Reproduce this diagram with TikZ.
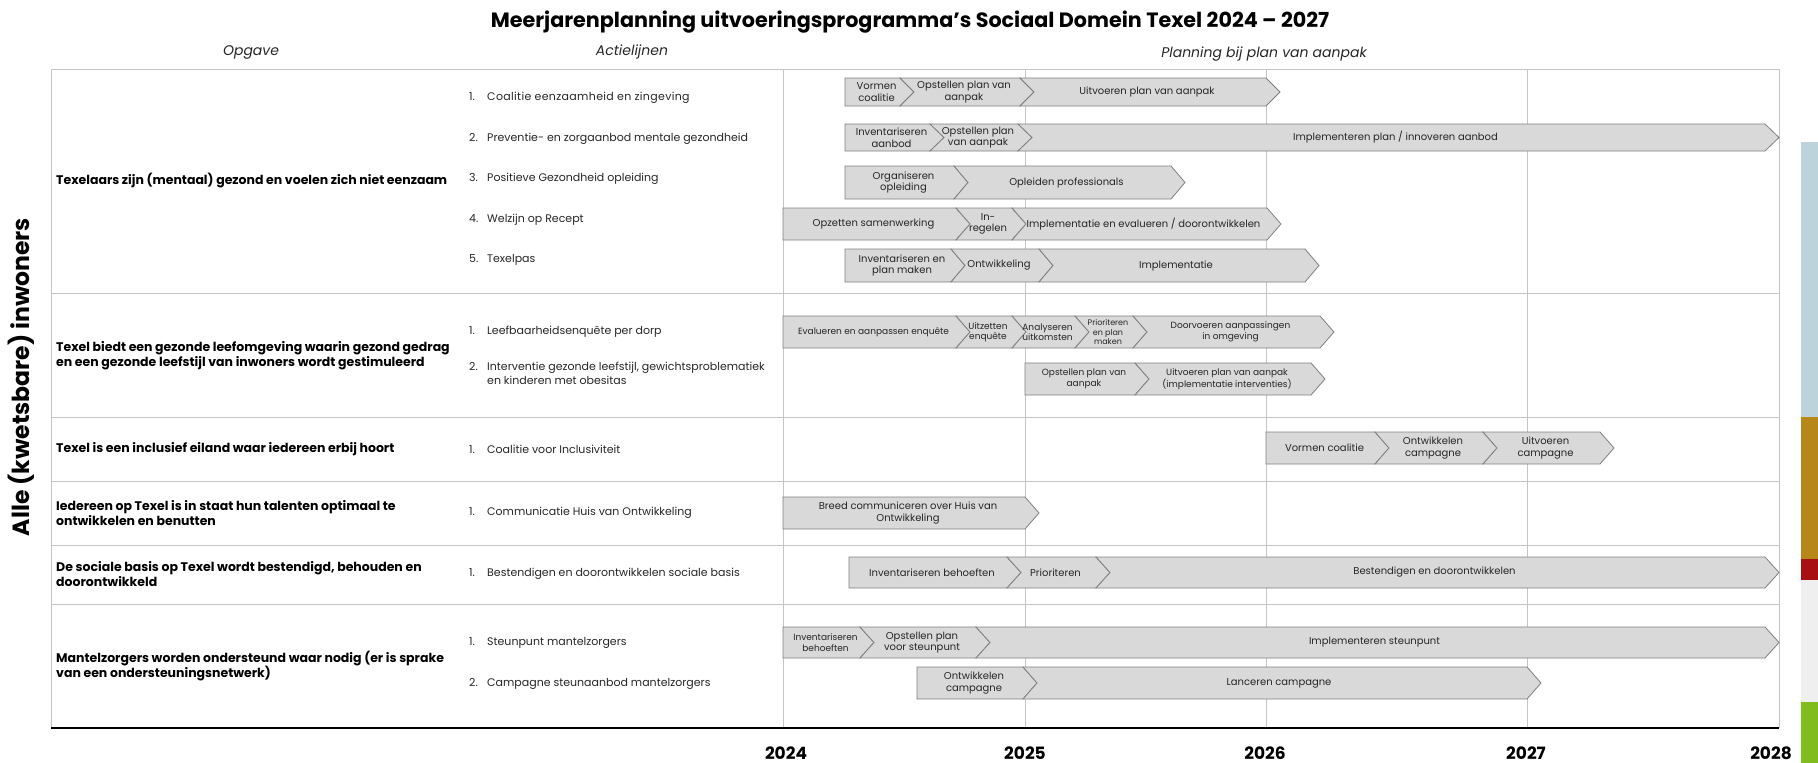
\documentclass[tikz,border=0pt]{standalone}
\usepackage{fontspec}
\setmainfont{Poppins}
\usetikzlibrary{positioning}

\definecolor{barfill}{HTML}{D9D9D9}
\definecolor{barline}{HTML}{7F7F7F}
\definecolor{gridline}{HTML}{C4C4C4}
\definecolor{tagblue}{HTML}{BDD3DC}
\definecolor{taggold}{HTML}{B8871A}
\definecolor{tagred}{HTML}{A80F12}
\definecolor{taggrey}{HTML}{EFEFEF}
\definecolor{taggreen}{HTML}{80BC1E}

\def\tipd{14}

% first block of a bar: flat left end, pointed right end
\newcommand{\headseg}[7][]{%
  \pgfmathsetmacro{\ymid}{(#4+#5)/2}%
  \pgfmathsetmacro{\xtxt}{(#2+#3)/2+4}%
  \filldraw[segment] (#2,#4) -- (#3,#4) -- (#3+\tipd,\ymid) -- (#3,#5) -- (#2,#5) -- cycle;
  \node[segtext,#1] (#6) at (\xtxt,\ymid) {#7};
}
% following block: notched left end, pointed right end
\newcommand{\nextseg}[7][]{%
  \pgfmathsetmacro{\ymid}{(#4+#5)/2}%
  \pgfmathsetmacro{\xtxt}{(#2+#3)/2+4}%
  \filldraw[segment] (#2,#4) -- (#3,#4) -- (#3+\tipd,\ymid) -- (#3,#5) -- (#2,#5) -- (#2+\tipd,\ymid) -- cycle;
  \node[segtext,#1] (#6) at (\xtxt,\ymid) {#7};
}

\begin{document}
\begin{tikzpicture}
[x=1pt, y=-1pt,
    segment/.style={fill=barfill, draw=barline, line width=0.8pt, line join=miter},
    segtext/.style={font=\fontsize{10}{11.5}\selectfont, align=center,
        text=black!85, inner sep=0pt},
    segsmall/.style={font=\fontsize{9}{10.5}\selectfont},
    segtiny/.style={font=\fontsize{8}{9.5}\selectfont},
    goal/.style={anchor=west, align=left, inner sep=0pt,
        font=\fontsize{12.5}{15}\selectfont\bfseries},
    item/.style={anchor=west, align=left, inner sep=0pt,
        font=\fontsize{11}{14}\selectfont, text=black!85},
    head/.style={font=\fontsize{14}{16}\selectfont\itshape, text=black!85},
    year/.style={font=\fontsize{17}{20}\selectfont\bfseries},
    gridrule/.style={draw=gridline, line width=1pt},
    ]

    \useasboundingbox (0,0) rectangle (1818,763);

    % title and column heads
    \node[font=\fontsize{20.7}{24}\selectfont\bfseries] (title) at (910,22)
        {Meerjarenplanning uitvoeringsprogramma’s Sociaal Domein Texel 2024 – 2027};
    \node[head] (hOpgave) at (251,52) {Opgave};
    \node[head] (hActie) at (632,52) {Actielijnen};
    \node[head] (hPlan) at (1264,54) {Planning bij plan van aanpak};

    % table rules
    \draw[gridrule] (51,69) -- (1779,69);
    \foreach \y in {293,417,481,545,604}
        \draw[gridrule] (51,\y) -- (1779,\y);
    \draw[gridrule] (51,69) -- (51,728);
    \foreach \x in {783,1025,1266,1527,1779}
        \draw[gridrule] (\x,69) -- (\x,728);
    \draw[line width=2.2pt] (51,728) -- (1779,728);

    % years
    \node[year] (y2024) at (786,753) {2024};
    \node[year] (y2025) at (1025,753) {2025};
    \node[year] (y2026) at (1265,753) {2026};
    \node[year] (y2027) at (1526,753) {2027};
    \node[year] (y2028) at (1771,753) {2028};

    % side label
    \node[rotate=90, font=\fontsize{23.5}{28}\selectfont\bfseries] (target) at (21,377)
        {Alle (kwetsbare) inwoners};

    % coloured strip at the right
    \fill[tagblue] (1801,142) rectangle (1818,417);
    \fill[taggold] (1801,417) rectangle (1818,559);
    \fill[tagred] (1801,559) rectangle (1818,580);
    \fill[taggrey] (1801,580) rectangle (1818,702);
    \fill[taggreen] (1801,702) rectangle (1818,763);

    % opgaven
    \node[goal] (g1) at (56,181) {Texelaars zijn (mentaal) gezond en voelen zich niet eenzaam};
    \node[goal] (g2) at (56,355.5) {Texel biedt een gezonde leefomgeving waarin gezond gedrag\\en een gezonde leefstijl van inwoners wordt gestimuleerd};
    \node[goal] (g3) at (56,449) {Texel is een inclusief eiland waar iedereen erbij hoort};
    \node[goal] (g4) at (56,513) {Iedereen op Texel is in staat hun talenten optimaal te\\ontwikkelen en benutten};
    \node[goal] (g5) at (56,574) {De sociale basis op Texel wordt bestendigd, behouden en\\doorontwikkeld};
    \node[goal] (g6) at (56,666) {Mantelzorgers worden ondersteund waar nodig (er is sprake\\van een ondersteuningsnetwerk)};

    % actielijnen
    \node[item] (a11) at (469,98) {\makebox[18pt][l]{1.}{\addfontfeature{LetterSpace=3}Coalitie eenzaamheid en zingeving}};
    \node[item] (a12) at (469,138.5) {\makebox[18pt][l]{2.}Preventie- en zorgaanbod mentale gezondheid};
    \node[item] (a13) at (469,179) {\makebox[18pt][l]{3.}Positieve Gezondheid opleiding};
    \node[item] (a14) at (469,219.5) {\makebox[18pt][l]{4.}Welzijn op Recept};
    \node[item] (a15) at (469,260) {\makebox[18pt][l]{5.}Texelpas};
    \node[item] (a21) at (469,332) {\makebox[18pt][l]{1.}Leefbaarheidsenquête per dorp};
    \node[item] (a22) at (469,373) {\makebox[18pt][l]{2.}Interventie gezonde leefstijl, gewichtsproblematiek\\\hspace*{18pt}en kinderen met obesitas};
    \node[item] (a31) at (469,449) {\makebox[18pt][l]{1.}Coalitie voor Inclusiviteit};
    \node[item] (a41) at (469,513) {\makebox[18pt][l]{1.}Communicatie Huis van Ontwikkeling};
    \node[item] (a51) at (469,574) {\makebox[18pt][l]{1.}Bestendigen en doorontwikkelen sociale basis};
    \node[item] (a61) at (469,643) {\makebox[18pt][l]{1.}Steunpunt mantelzorgers};
    \node[item] (a62) at (469,684) {\makebox[18pt][l]{2.}Campagne steunaanbod mantelzorgers};

    % planning bars
    \headseg{845}{900}{78}{106}{s11a}{Vormen\\coalitie}
    \nextseg{900}{1020}{78}{106}{s11b}{Opstellen plan van\\aanpak}
    \nextseg{1020}{1266}{78}{106}{s11c}{Uitvoeren plan van aanpak}

    \headseg{845}{930}{124}{151}{s12a}{Inventariseren\\aanbod}
    \nextseg{930}{1018}{124}{151}{s12b}{Opstellen plan\\van aanpak}
    \nextseg{1018}{1765}{124}{151}{s12c}{Implementeren plan / innoveren aanbod}

    \headseg{845}{954}{166}{199}{s13a}{Organiseren\\opleiding}
    \nextseg{954}{1171}{166}{199}{s13b}{Opleiden professionals}

    \headseg{783}{956}{208}{240}{s14a}{Opzetten samenwerking}
    \nextseg{956}{1012}{208}{240}{s14b}{In-\\regelen}
    \nextseg{1012}{1267}{208}{240}{s14c}{Implementatie en evalueren / doorontwikkelen}

    \headseg{845}{951}{249}{282}{s15a}{Inventariseren en\\plan maken}
    \nextseg{951}{1039}{249}{282}{s15b}{Ontwikkeling}
    \nextseg{1039}{1305}{249}{282}{s15c}{Implementatie}

    \headseg[segsmall]{783}{956}{316}{348}{s21a}{Evalueren en aanpassen enquête}
    \nextseg[segsmall]{956}{1012}{316}{348}{s21b}{Uitzetten\\enquête}
    \nextseg[segsmall]{1012}{1075}{316}{348}{s21c}{Analyseren\\uitkomsten}
    \nextseg[segtiny]{1075}{1133}{316}{348}{s21d}{Prioriteren\\en plan\\maken}
    \nextseg[segsmall]{1133}{1320}{316}{348}{s21e}{Doorvoeren aanpassingen\\in omgeving}

    \headseg[segsmall]{1025}{1135}{363}{395}{s22a}{Opstellen plan van\\aanpak}
    \nextseg[segsmall]{1135}{1311}{363}{395}{s22b}{Uitvoeren plan van aanpak\\(implementatie interventies)}

    \headseg{1266}{1375}{432}{464}{s31a}{Vormen coalitie}
    \nextseg{1375}{1483}{432}{464}{s31b}{Ontwikkelen\\campagne}
    \nextseg{1483}{1600}{432}{464}{s31c}{Uitvoeren\\campagne}

    \headseg{783}{1025}{497}{529}{s41a}{Breed communiceren over Huis van\\Ontwikkeling}

    \headseg{849}{1007}{557}{588}{s51a}{Inventariseren behoeften}
    \nextseg{1007}{1096}{557}{588}{s51b}{Prioriteren}
    \nextseg{1096}{1765}{557}{588}{s51c}{Bestendigen en doorontwikkelen}

    \headseg[segsmall]{783}{860}{627}{658}{s61a}{Inventariseren\\behoeften}
    \nextseg{860}{976}{627}{658}{s61b}{Opstellen plan\\voor steunpunt}
    \nextseg{976}{1765}{627}{658}{s61c}{Implementeren steunpunt}

    \headseg{917}{1023}{667}{699}{s62a}{Ontwikkelen\\campagne}
    \nextseg{1023}{1527}{667}{699}{s62b}{Lanceren campagne}

\end{tikzpicture}
\end{document}
